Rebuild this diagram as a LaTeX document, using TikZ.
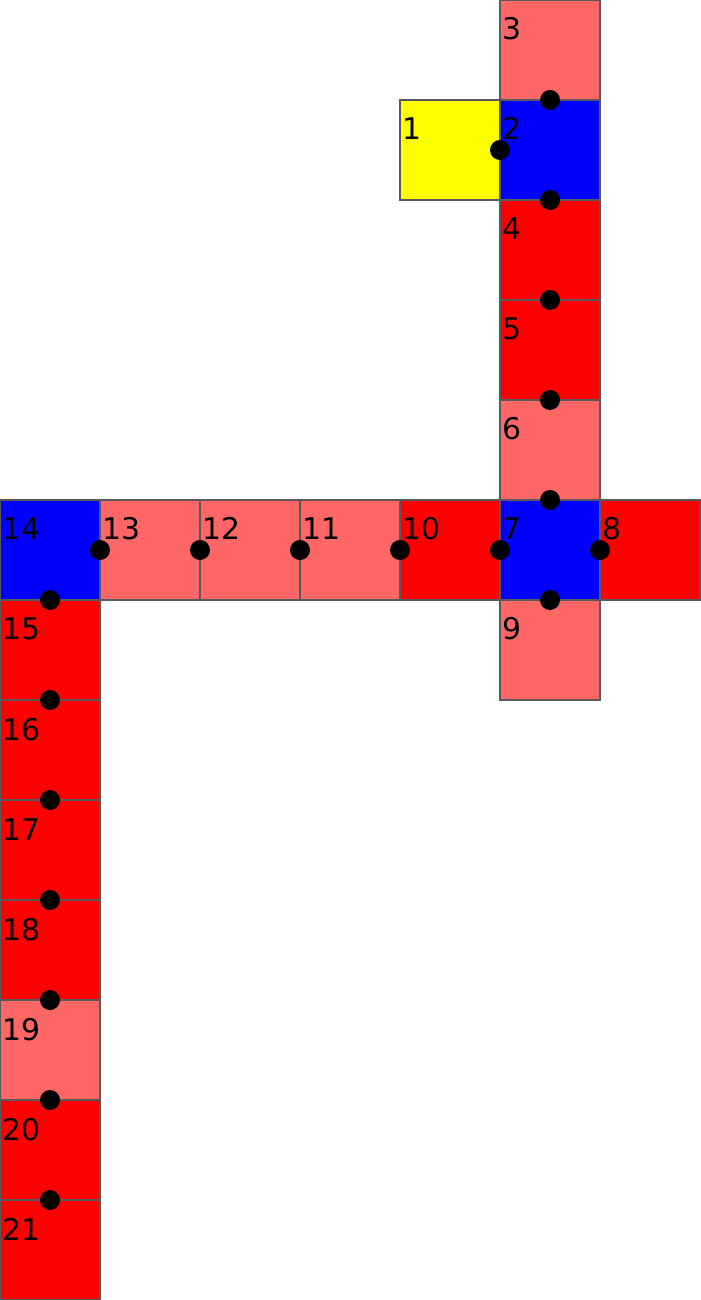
\documentclass[tikz,border=0pt]{standalone}
\usepackage{fontspec}
\setmainfont{DejaVu Sans}
\usepackage{tikz}
\usetikzlibrary{positioning}
\definecolor{cellpink}{HTML}{FF6666}
\definecolor{cellred}{HTML}{FF0000}
\definecolor{cellblue}{HTML}{0000FF}
\definecolor{cellyellow}{HTML}{FFFF00}
\tikzset{
  sq/.style={
    rectangle, draw=black!65, line width=0.4pt, fill=#1,
    minimum size=1cm, inner sep=0pt, outer sep=0pt, anchor=north west
  },
  sq/.default=cellred,
  lbl/.style={anchor=base west, inner sep=0pt, xshift=0.02cm, yshift=-0.4cm,
    font=\fontsize{8.5}{10}\selectfont},
  num/.style={label={[lbl]north west:#1}, label distance=0pt},
  dot/.style={fill=black},
}

\begin{document}
\begin{tikzpicture}

\useasboundingbox (0,0) rectangle (7,-13);

% column on the right
\node[sq=cellpink, num=3] (s3) at (5,0) {};
\node[sq=cellyellow, num=1] (s1) at (4,-1) {};
\node[sq=cellblue, num=2] (s2) at (5,-1) {};
\node[sq=cellred, num=4] (s4) at (5,-2) {};
\node[sq=cellred, num=5] (s5) at (5,-3) {};
\node[sq=cellpink, num=6] (s6) at (5,-4) {};

% middle row
\node[sq=cellblue, num=14] (s14) at (0,-5) {};
\node[sq=cellpink, num=13] (s13) at (1,-5) {};
\node[sq=cellpink, num=12] (s12) at (2,-5) {};
\node[sq=cellpink, num=11] (s11) at (3,-5) {};
\node[sq=cellred, num=10] (s10) at (4,-5) {};
\node[sq=cellblue, num=7] (s7) at (5,-5) {};
\node[sq=cellred, num=8] (s8) at (6,-5) {};
\node[sq=cellpink, num=9] (s9) at (5,-6) {};

% column on the left
\foreach \n/\c [count=\i] in {15/cellred, 16/cellred, 17/cellred, 18/cellred,
                               19/cellpink, 20/cellred, 21/cellred}
  \node[sq=\c, num=\n] (s\n) at (0,-5-\i) {};

% joints
\foreach \a in {s3.south, s2.west, s2.south, s4.south, s5.south, s6.south,
                s7.west, s7.east, s7.south, s10.west, s11.west, s12.west,
                s13.west, s14.south}
  \fill[dot] (\a) circle (0.1cm);
\foreach \n in {15,...,20}
  \fill[dot] (s\n.south) circle (0.1cm);

\end{tikzpicture}
\end{document}
